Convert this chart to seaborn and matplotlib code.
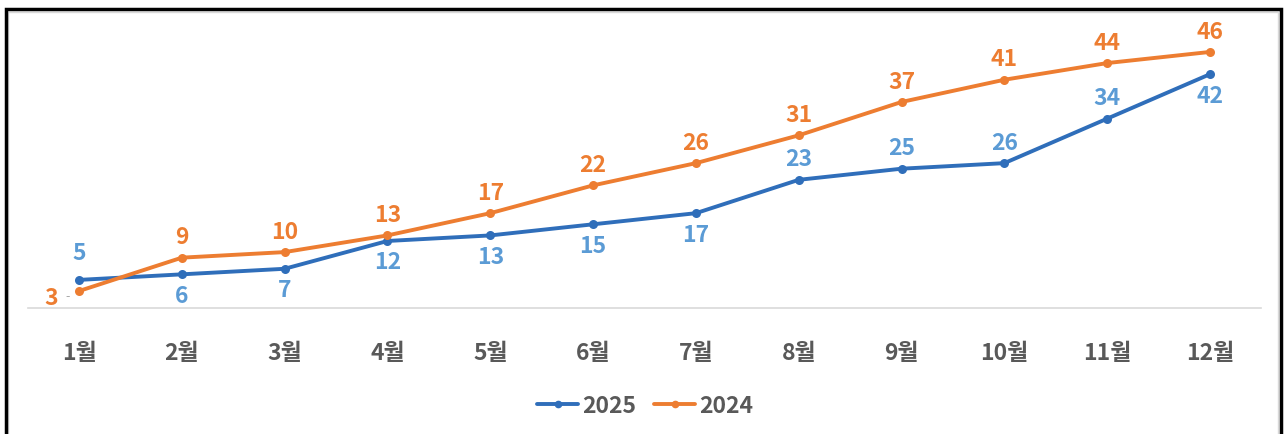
import pandas as pd
import matplotlib.pyplot as plt
import seaborn as sns
from matplotlib.patches import Rectangle

# 데이터
months = ['1월', '2월', '3월', '4월', '5월', '6월', '7월', '8월', '9월', '10월', '11월', '12월']
values_2025 = [5, 6, 7, 12, 13, 15, 17, 23, 25, 26, 34, 42]
values_2024 = [3, 9, 10, 13, 17, 22, 26, 31, 37, 41, 44, 46]
# 2025 라벨 위치 (위/아래)
pos_2025 = ['up', 'down', 'down', 'down', 'down', 'down', 'down', 'up', 'up', 'up', 'up', 'down']

df = pd.DataFrame({
    'month': months * 2,
    'x': list(range(12)) * 2,
    'value': values_2025 + values_2024,
    'year': ['2025'] * 12 + ['2024'] * 12,
})

sns.set_style('white')
plt.rcParams['font.family'] = ['Noto Sans CJK KR', 'DejaVu Sans']

blue_line = '#2F6EBA'
blue_text = '#5B9BD5'
orange = '#ED7D31'
gray = '#595959'
fs = 16.5

fig = plt.figure(figsize=(12.85, 4.35), dpi=100)
ax = fig.add_axes([27.6 / 1285, 1 - 308.7 / 435, (1261.4 - 27.6) / 1285, (308.7 - 30.7) / 435])

sns.lineplot(data=df, x='x', y='value', hue='year', palette={'2025': blue_line, '2024': orange},
             hue_order=['2025', '2024'], marker='o', markersize=6.5, markeredgewidth=0,
             linewidth=2.8, ax=ax, legend=False)

ax.set_xlim(-0.5, 11.5)
ax.set_ylim(0, 50)
ax.set_xticks(range(12))
ax.set_xticklabels(months, fontsize=fs, fontweight='bold', color=gray)
ax.tick_params(axis='x', length=0, pad=24)
ax.set_yticks([])
ax.set_xlabel('')
ax.set_ylabel('')
for s in ['top', 'right', 'left']:
    ax.spines[s].set_visible(False)
ax.spines['bottom'].set_color('#D9D9D9')
ax.spines['bottom'].set_linewidth(1.2)

# 데이터 라벨
for i, v in enumerate(values_2024):
    if i == 0:
        ax.annotate(str(v), (i, v), xytext=(-20, -5), textcoords='offset points',
                    ha='center', va='center', fontsize=fs, fontweight='bold', color=orange)
        ax.annotate('-', (i, v), xytext=(-8, -3), textcoords='offset points',
                    ha='center', va='center', fontsize=9, color='#A6A6A6')
    else:
        ax.annotate(str(v), (i, v), xytext=(0, 15), textcoords='offset points',
                    ha='center', va='center', fontsize=fs, fontweight='bold', color=orange)
for i, v in enumerate(values_2025):
    dy = 15 if pos_2025[i] == 'up' else -15
    if i == 0:
        dy = 20
    ax.annotate(str(v), (i, v), xytext=(0, dy), textcoords='offset points',
                ha='center', va='center', fontsize=fs, fontweight='bold', color=blue_text)

# 범례
handles = [plt.Line2D([], [], color=blue_line, marker='o', markersize=4.5, linewidth=2.8),
           plt.Line2D([], [], color=orange, marker='o', markersize=4.5, linewidth=2.8)]
fig.legend(handles, ['2025', '2024'], loc='center', bbox_to_anchor=(645 / 1285, 1 - 407 / 435),
           ncol=2, frameon=False, handlelength=1.8, handletextpad=0.15, columnspacing=0.8,
           prop={'size': fs, 'weight': 'bold'}, labelcolor=gray)

# 테두리
fig.patches.append(Rectangle((8 / 1285, -0.05), 1270 / 1285, 1 - 13 / 435 + 0.05,
                             transform=fig.transFigure, fill=False, edgecolor='#D9D9D9', linewidth=1))
fig.patches.append(Rectangle((5.5 / 1285, -0.05), 1275 / 1285, 1 - 9.5 / 435 + 0.05,
                             transform=fig.transFigure, fill=False, edgecolor='black', linewidth=2.5))

fig.savefig('out.png', dpi=100, facecolor='white')
